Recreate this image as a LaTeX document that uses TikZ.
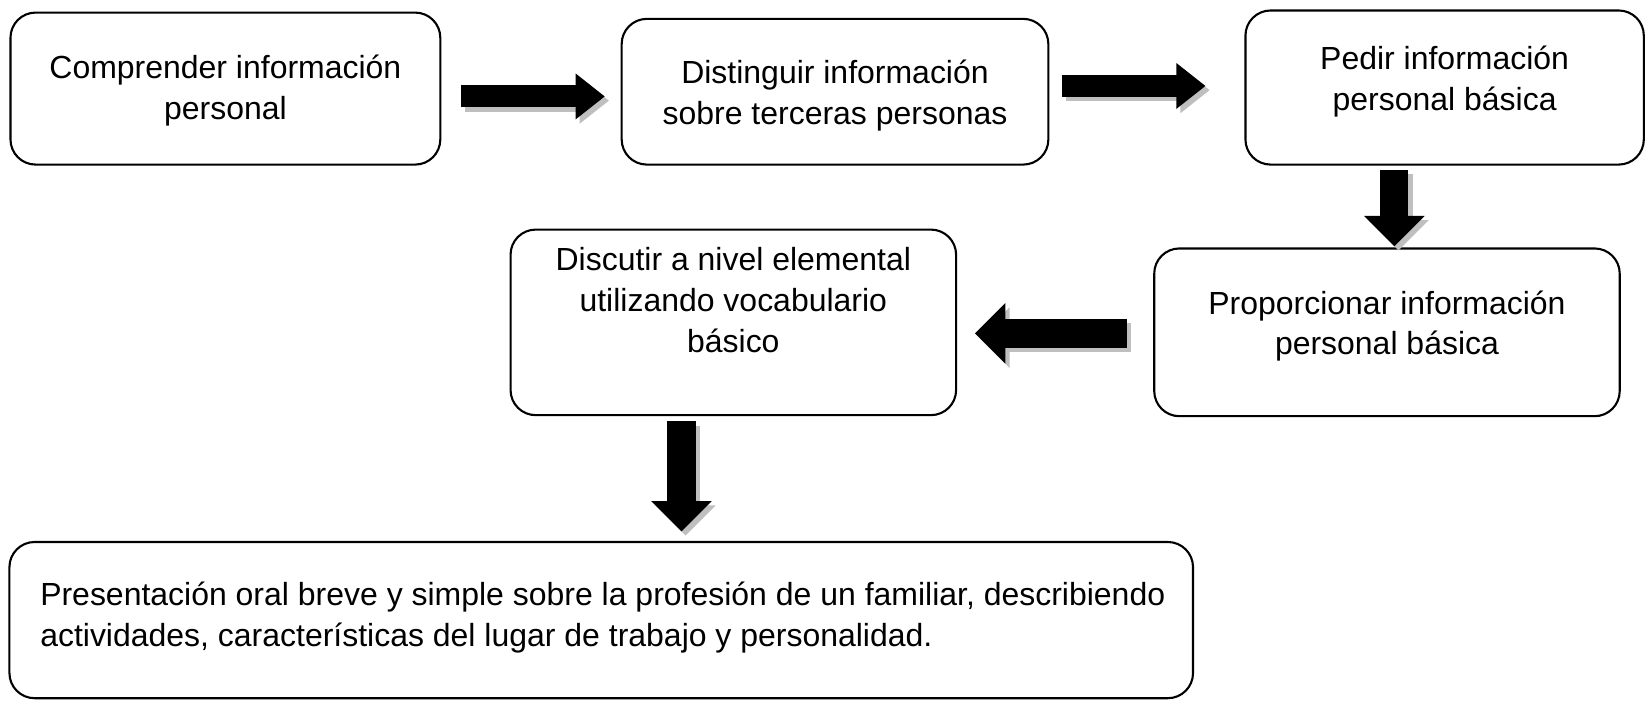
\documentclass[tikz,border=0pt]{standalone}
\usepackage{fontspec}
\setmainfont{Liberation Sans}
\usetikzlibrary{arrows.meta}

\begin{document}
\begin{tikzpicture}[
    x=0.5pt, y=-0.5pt,
    paso/.style={rectangle, draw, line width=1pt, rounded corners=12pt},
    texto/.style={align=center, inner sep=0pt,
        font=\fontsize{15.25pt}{19.5pt}\selectfont},
    flecha/.style={line width=10.5pt, -{Triangle[length=14pt, width=21pt]}},
    flechaG/.style={line width=13.5pt, -{Triangle[length=14.5pt, width=28pt]}},
    sombra/.style={draw=black!25, transform canvas={xshift=2pt, yshift=-2pt}}
]
\useasboundingbox (0,0) rectangle (1572,668);

% cajas
\node (Comprender) [paso, minimum width=205pt, minimum height=72.5pt] at (215,84.5) {};
\node (Distinguir) [paso, minimum width=203.5pt, minimum height=69.5pt] at (796.5,87.5) {};
\node (Pedir) [paso, minimum width=190pt, minimum height=73.5pt] at (1378,83.5) {};
\node (Proporcionar) [paso, minimum width=222pt, minimum height=80pt] at (1323,317) {};
\node (Discutir) [paso, minimum width=212.5pt, minimum height=88.5pt] at (699.5,307.5) {};
\node (Presentacion) [paso, minimum width=564.5pt, minimum height=74.5pt] at (573.5,591.5) {};

% textos
\node (ComprenderTxt) [texto] at (215,86) {Comprender información\\personal};
\node (DistinguirTxt) [texto] at (796.5,91) {Distinguir información\\sobre terceras personas};
\node (PedirTxt) [texto] at (1378,78) {Pedir información\\personal básica};
\node (ProporcionarTxt) [texto] at (1323,311) {Proporcionar información\\personal básica};
\node (DiscutirTxt) [texto] at (699.5,286) {Discutir a nivel elemental\\utilizando vocabulario\\básico};
\node (PresentacionTxt) [texto, align=left, anchor=west] at (38,589)
    {Presentación oral breve y simple sobre la profesión de un familiar, describiendo\\
     actividades, características del lugar de trabajo y personalidad.};

% extremos de las flechas
\coordinate (Flecha01a) at (440,92);
\coordinate (Flecha01b) at (577,92);
\coordinate (Flecha02a) at (1013,82);
\coordinate (Flecha02b) at (1150,82);
\coordinate (Flecha03a) at (1330,162);
\coordinate (Flecha03b) at (1330,235);
\coordinate (Flecha04a) at (1075,318);
\coordinate (Flecha04b) at (930,318);
\coordinate (Flecha05a) at (650,402);
\coordinate (Flecha05b) at (650,507);

% sombras
\draw [flecha, sombra] (Flecha01a) -- (Flecha01b);
\draw [flecha, sombra] (Flecha02a) -- (Flecha02b);
\draw [flechaG, sombra] (Flecha03a) -- (Flecha03b);
\draw [flechaG, sombra] (Flecha04a) -- (Flecha04b);
\draw [flechaG, sombra] (Flecha05a) -- (Flecha05b);

% flechas
\draw [flecha] (Flecha01a) -- (Flecha01b);
\draw [flecha] (Flecha02a) -- (Flecha02b);
\draw [flechaG] (Flecha03a) -- (Flecha03b);
\draw [flechaG] (Flecha04a) -- (Flecha04b);
\draw [flechaG] (Flecha05a) -- (Flecha05b);

\end{tikzpicture}
\end{document}
